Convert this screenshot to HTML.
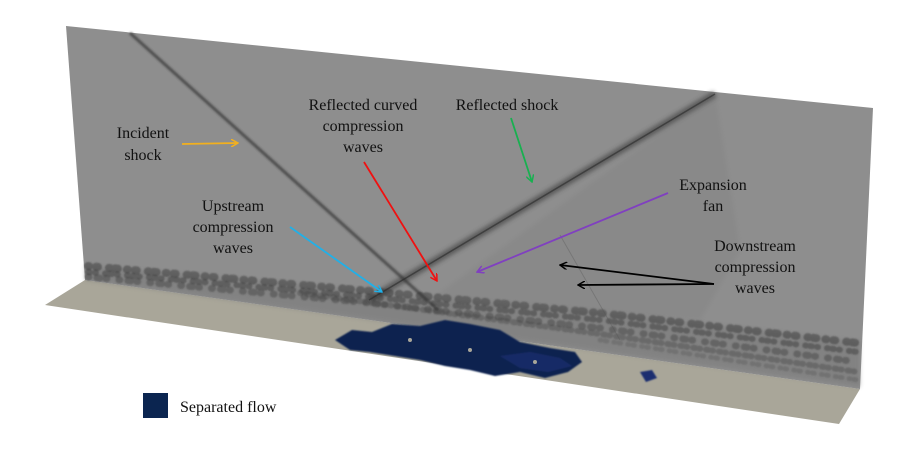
<!DOCTYPE html>
<html><head><meta charset="utf-8"><style>
html,body{margin:0;padding:0;background:#fff;}
svg{display:block;}
text{font-family:"Liberation Serif",serif;font-size:16px;fill:#111;text-anchor:middle;}
</style></head><body>
<svg width="904" height="452" viewBox="0 0 904 452" xmlns="http://www.w3.org/2000/svg">
<defs>
<filter id="b2"><feGaussianBlur stdDeviation="2"/></filter>
<filter id="b1"><feGaussianBlur stdDeviation="1"/></filter>
<filter id="b05"><feGaussianBlur stdDeviation="0.8"/></filter>
<marker id="ay" markerWidth="8" markerHeight="8" refX="7" refY="4" orient="auto" markerUnits="userSpaceOnUse"><path d="M0,0 L7,4 L0,8" fill="none" stroke="#f2b01e" stroke-width="1.5"/></marker>
<marker id="ar" markerWidth="8" markerHeight="8" refX="7" refY="4" orient="auto" markerUnits="userSpaceOnUse"><path d="M0,0 L7,4 L0,8" fill="none" stroke="#f01010" stroke-width="1.5"/></marker>
<marker id="ag" markerWidth="8" markerHeight="8" refX="7" refY="4" orient="auto" markerUnits="userSpaceOnUse"><path d="M0,0 L7,4 L0,8" fill="none" stroke="#18b050" stroke-width="1.5"/></marker>
<marker id="ap" markerWidth="8" markerHeight="8" refX="7" refY="4" orient="auto" markerUnits="userSpaceOnUse"><path d="M0,0 L7,4 L0,8" fill="none" stroke="#8040c0" stroke-width="1.5"/></marker>
<marker id="ac" markerWidth="8" markerHeight="8" refX="7" refY="4" orient="auto" markerUnits="userSpaceOnUse"><path d="M0,0 L7,4 L0,8" fill="none" stroke="#20b0e8" stroke-width="1.5"/></marker>
<marker id="ak" markerWidth="8" markerHeight="8" refX="7" refY="4" orient="auto" markerUnits="userSpaceOnUse"><path d="M0,0 L7,4 L0,8" fill="none" stroke="#000" stroke-width="1.5"/></marker>
</defs>
<polygon points="45,305 85,280 860,389 839,424" fill="#a9a699"/>
<polygon points="66,26 873,108 860,389 85,280" fill="#8e8e8e"/>
<polygon points="85,266 200,276 360,290 430,298 600,312 860,342 860,387 85,280" fill="#777" opacity="0.5" filter="url(#b2)"/>
<g fill="none" stroke-linecap="round" filter="url(#b05)">
<path d="M88,266 L360,290 L600,313 L858,343" stroke="#3a3a3a" stroke-width="8" stroke-dasharray="1 7 2 11 1 5 3 9" opacity="0.5"/>
<path d="M88,272 L360,296 L600,320 L858,352" stroke="#333" stroke-width="6" stroke-dasharray="2 5 1 9 1 4" opacity="0.45"/>
<path d="M88,277 L360,302 L600,328 L858,362" stroke="#3a3a3a" stroke-width="7" stroke-dasharray="1 8 3 6 1 12" opacity="0.4"/>
<path d="M300,293 L600,334 L858,372" stroke="#444" stroke-width="6" stroke-dasharray="1 6 2 4" opacity="0.4"/>
<path d="M600,340 L858,380" stroke="#555" stroke-width="5" stroke-dasharray="1 4 2 7" opacity="0.35"/>
</g>
<line x1="130" y1="33" x2="438" y2="310" stroke="#333" stroke-width="3" opacity="0.7" filter="url(#b1)"/>
<line x1="369" y1="300" x2="715" y2="94" stroke="#333" stroke-width="7" opacity="0.55" filter="url(#b2)"/>
<line x1="369" y1="300" x2="715" y2="94" stroke="#2a2a2a" stroke-width="1.5" opacity="0.6"/>
<polygon points="430,300 715,94 740,250 700,320" fill="#666" opacity="0.12" filter="url(#b2)"/>
<line x1="560" y1="235" x2="620" y2="340" stroke="#555" stroke-width="1" opacity="0.35"/>
<g filter="url(#b05)">
<path d="M335,340 L352,330 L372,332 L392,324 L420,326 L445,320 L470,324 L500,330 L520,342 L550,348 L575,352 L582,362 L568,372 L545,378 L520,372 L495,376 L470,370 L445,366 L420,360 L395,356 L370,352 L350,350 Z" fill="#10214f"/>
<path d="M500,356 L530,352 L560,358 L572,366 L548,372 L520,368 Z" fill="#182a66"/>
<path d="M640,372 L652,370 L657,378 L646,382 Z" fill="#1a2e70"/>
</g>
<g fill="#a9a699"><circle cx="410" cy="340" r="2"/><circle cx="470" cy="350" r="2"/><circle cx="535" cy="362" r="2"/></g>
<text x="143" y="138">Incident</text><text x="143" y="160">shock</text>
<line x1="182" y1="144" x2="238" y2="143" stroke="#f2b01e" stroke-width="1.8" marker-end="url(#ay)"/>
<text x="363" y="110">Reflected curved</text><text x="363" y="131">compression</text><text x="363" y="152">waves</text>
<line x1="364" y1="162" x2="437" y2="281" stroke="#f01010" stroke-width="1.8" marker-end="url(#ar)"/>
<text x="507" y="110">Reflected shock</text>
<line x1="511" y1="118" x2="532" y2="182" stroke="#18b050" stroke-width="1.8" marker-end="url(#ag)"/>
<text x="713" y="190">Expansion</text><text x="713" y="211">fan</text>
<line x1="668" y1="193" x2="477" y2="272" stroke="#8040c0" stroke-width="1.8" marker-end="url(#ap)"/>
<text x="233" y="211">Upstream</text><text x="233" y="232">compression</text><text x="233" y="253">waves</text>
<line x1="290" y1="227" x2="382" y2="292" stroke="#20b0e8" stroke-width="1.8" marker-end="url(#ac)"/>
<text x="755" y="251">Downstream</text><text x="755" y="272">compression</text><text x="755" y="293">waves</text>
<line x1="714" y1="284" x2="560" y2="265" stroke="#000" stroke-width="1.8" marker-end="url(#ak)"/>
<line x1="714" y1="284" x2="578" y2="285" stroke="#000" stroke-width="1.8" marker-end="url(#ak)"/>
<rect x="143" y="393" width="25" height="25" fill="#0b2550"/>
<text x="180" y="412" style="text-anchor:start">Separated flow</text>
</svg>
</body></html>
